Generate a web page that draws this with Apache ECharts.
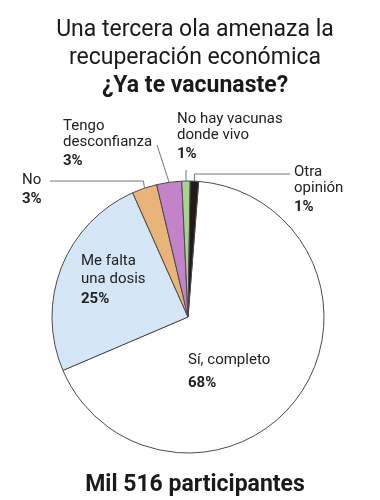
<!DOCTYPE html>
<html>
<head>
<meta charset="utf-8">
<script src="https://cdn.jsdelivr.net/npm/echarts@6/dist/echarts.min.js"></script>
<style>
  html, body { margin: 0; padding: 0; background: #ffffff; }
  #chart { width: 380px; height: 500px; }
</style>
</head>
<body>
<div id="chart"></div>
<script>
// ---- data ----
const titleLines = ['Una tercera ola amenaza la', 'recuperación económica'];
const subtitle = '¿Ya te vacunaste?';
const footer = 'Mil 516 participantes';
const categories = ['Sí, completo', 'Me falta\nuna dosis', 'No', 'Tengo\ndesconfianza', 'No hay vacunas\ndonde vivo', 'Otra\nopinión'];
const values = [68, 25, 3, 3, 1, 1];

// ---- styles ----
const colors = ['#ffffff', '#d5e7f6', '#e8b47a', '#c283c9', '#a9d191', '#241a17'];
// label placement (style only): left/top of text block, rich keys, leader shape
const labelPlacement = [
  { x: 188, y: 352, n: 'n', p: 'q', guide: 'none' },
  { x: 81,  y: 252, n: 'm', p: 'p', guide: 'none' },
  { x: 22,  y: 172.5, n: 'n', p: 'p', guide: 'elbowLeft', hx: 50, hy: 181 },
  { x: 63,  y: 118, n: 'n', p: 'p', guide: 'diag', sx: 157, sy: 145 },
  { x: 177, y: 111, n: 'n', p: 'p', guide: 'vertical', sy: 170 },
  { x: 294, y: 164, n: 'n', p: 'p', guide: 'elbowRight', hx: 290, hy: 174 }
];

const chart = echarts.init(document.getElementById('chart'), null, { renderer: 'canvas' });
const FONT = 'Roboto';

const pieData = categories.map((name, i) => ({
  name: name,
  value: values[i],
  itemStyle: { color: colors[i] },
  labelLine: { show: labelPlacement[i].guide !== 'none' }
}));

const option = {
  animation: false,
  title: [
    {
      text: titleLines.join('\n'),
      left: 190, top: 11, textAlign: 'center',
      textStyle: { fontFamily: FONT, fontSize: 23, fontWeight: 'normal', color: '#1a1a1a', lineHeight: 28 }
    },
    {
      text: subtitle,
      left: 190, top: 67, textAlign: 'center',
      textStyle: { fontFamily: FONT, fontSize: 23, fontWeight: 'bold', color: '#1a1a1a', lineHeight: 28 }
    },
    {
      text: footer,
      left: 190, top: 466, textAlign: 'center',
      textStyle: { fontFamily: FONT, fontSize: 23, fontWeight: 'bold', color: '#1a1a1a', lineHeight: 28 }
    }
  ],
  series: [{
    type: 'pie',
    center: [188, 317],
    radius: 136,
    startAngle: 85.5,
    clockwise: true,
    avoidLabelOverlap: false,
    silent: true,
    data: pieData,
    itemStyle: { borderColor: '#4a4a4a', borderWidth: 1 },
    label: {
      show: true,
      position: 'outside',
      overflow: 'none',
      fontFamily: FONT,
      color: '#222',
      formatter: function (p) {
        const cfg = labelPlacement[p.dataIndex];
        const lines = p.name.split('\n').map(s => '{' + cfg.n + '|' + s + '}');
        return lines.join('\n') + '\n{' + cfg.p + '|' + p.value + '%}';
      },
      rich: {
        n: { fontFamily: FONT, fontSize: 15, lineHeight: 16, color: '#222' },
        m: { fontFamily: FONT, fontSize: 15, lineHeight: 18, color: '#222' },
        p: { fontFamily: FONT, fontSize: 15, lineHeight: 22, fontWeight: 'bold', color: '#222' },
        q: { fontFamily: FONT, fontSize: 15, lineHeight: 30, fontWeight: 'bold', color: '#222' }
      }
    },
    labelLine: {
      show: true,
      lineStyle: { color: '#777', width: 1 }
    },
    labelLayout: function (params) {
      const cfg = labelPlacement[params.dataIndex];
      const res = { x: cfg.x, y: cfg.y, align: 'left', verticalAlign: 'top' };
      const pts = params.labelLinePoints;
      if (cfg.guide !== 'none' && pts && pts[0]) {
        const a = pts[0];
        if (cfg.guide === 'elbowLeft') {
          res.labelLinePoints = [[cfg.hx, cfg.hy], [a[0] - 1, cfg.hy], a];
        } else if (cfg.guide === 'diag') {
          res.labelLinePoints = [[cfg.sx, cfg.sy], a];
        } else if (cfg.guide === 'vertical') {
          res.labelLinePoints = [[a[0], cfg.sy], a];
        } else if (cfg.guide === 'elbowRight') {
          res.labelLinePoints = [[cfg.hx, cfg.hy], [a[0], cfg.hy], a];
        }
      }
      return res;
    }
  }]
};
chart.setOption(option);
</script>
</body>
</html>
